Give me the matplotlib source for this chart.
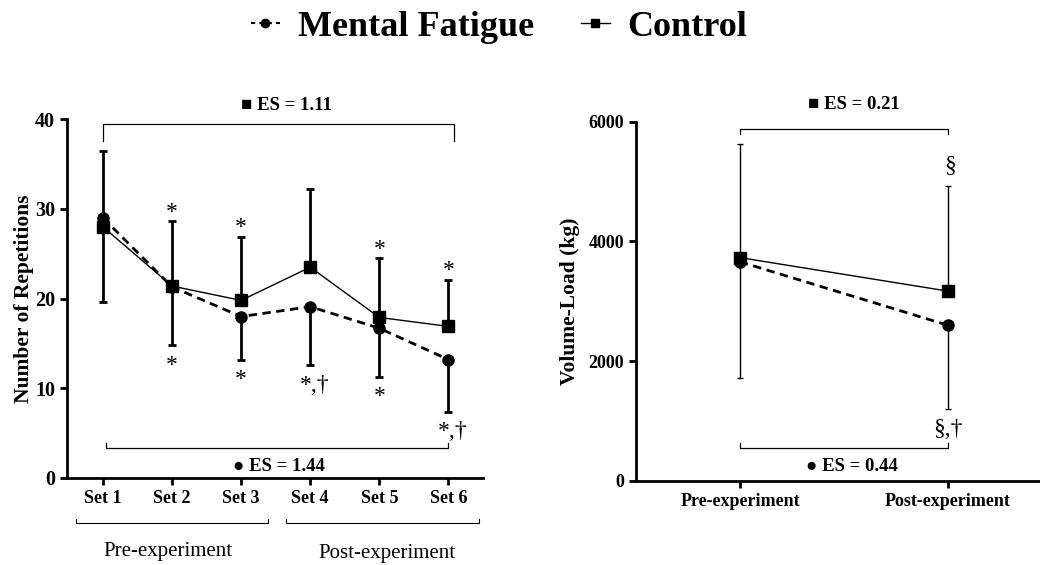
import matplotlib.pyplot as plt
from matplotlib.lines import Line2D

plt.rcParams['font.family'] = ['Liberation Serif', 'DejaVu Serif']

# left panel: repetitions per set
sets = ["Set 1", "Set 2", "Set 3", "Set 4", "Set 5", "Set 6"]
mf_reps = [29.0, 21.3, 18.0, 19.1, 16.7, 13.2]
mf_reps_sd = [9.4, 6.5, 4.8, 6.5, 5.4, 5.8]
ctrl_reps = [28.0, 21.4, 19.8, 23.5, 17.9, 16.9]
ctrl_reps_sd = [8.5, 7.2, 7.1, 8.7, 6.6, 5.2]
stars_top = ["", "*", "*", "", "*", "*"]
stars_bottom = ["", "*", "*", "*,\u2020", "*", "*,\u2020"]

# right panel: volume load
phases = ["Pre-experiment", "Post-experiment"]
mf_vol = [3660, 2600]
mf_vol_sd = [1935, 1405]
ctrl_vol = [3730, 3170]
ctrl_vol_sd = [1905, 1760]


def style_axis(ax):
    ax.spines["top"].set_visible(False)
    ax.spines["right"].set_visible(False)
    ax.spines["left"].set_linewidth(2)
    ax.spines["bottom"].set_linewidth(2)
    ax.tick_params(width=2, length=5, labelsize=13)
    for lab in ax.get_xticklabels() + ax.get_yticklabels():
        lab.set_fontweight("bold")


def bracket(ax, x0, x1, y, leg, **kw):
    ax.plot([x0, x0, x1, x1], [y + leg, y, y, y + leg], color="black", lw=0.9, **kw)


fig = plt.figure(figsize=(10.4, 5.65), dpi=100)

# ---- left
ax1 = fig.add_axes([0.0644, 0.154, 0.40, 0.635])
x = list(range(len(sets)))
ax1.errorbar(x, mf_reps, yerr=[mf_reps_sd, [0] * 6], fmt="none", ecolor="black",
             elinewidth=2, capsize=3, capthick=2)
ax1.errorbar(x, ctrl_reps, yerr=[[0] * 6, ctrl_reps_sd], fmt="none", ecolor="black",
             elinewidth=2, capsize=3, capthick=2)
ax1.plot(x, ctrl_reps, "-s", color="black", lw=1, ms=8)
ax1.plot(x, mf_reps, "--o", color="black", lw=2, ms=8, dashes=(3, 2))
ax1.set_xlim(-0.52, 5.5)
ax1.set_ylim(0, 40)
ax1.set_yticks([0, 10, 20, 30, 40])
ax1.set_xticks(x)
ax1.set_xticklabels(sets)
style_axis(ax1)
ax1.tick_params(axis="y", labelsize=14.5)
ax1.set_ylabel("Number of Repetitions", fontsize=15.5, fontweight="bold", labelpad=1)

# significance marks, baseline placed so the glyph sits just past the error cap
for i in x:
    if stars_top[i]:
        ax1.text(i, ctrl_reps[i] + ctrl_reps_sd[i] + 0.4, stars_top[i], ha="center",
                 va="baseline", fontsize=17)
    if stars_bottom[i]:
        ax1.text(i + (0.06 if "," in stars_bottom[i] else 0),
                 mf_reps[i] - mf_reps_sd[i] - 2.85, stars_bottom[i], ha="center",
                 va="baseline", fontsize=17)

bracket(ax1, 0, 5.08, 39.5, -1.9, clip_on=False)
bracket(ax1, 0.04, 5.0, 3.3, 0.6)
ax1.text(2.65, 41.5, "\u25a0 ES = 1.11", ha="center", va="center", fontsize=13.5,
         fontweight="bold")
ax1.text(2.55, 1.3, "\u25cf ES = 1.44", ha="center", va="center", fontsize=13.5,
         fontweight="bold")

trans = ax1.get_xaxis_transform()
ax1.plot([-0.39, -0.39, 2.39, 2.39], [-0.114, -0.126, -0.126, -0.114], color="black",
         lw=0.8, transform=trans, clip_on=False)
ax1.plot([2.65, 2.65, 5.44, 5.44], [-0.114, -0.126, -0.126, -0.114], color="black",
         lw=0.8, transform=trans, clip_on=False)
ax1.text(0.94, -0.205, "Pre-experiment", ha="center", va="center", fontsize=15,
         transform=trans)
ax1.text(4.11, -0.21, "Post-experiment", ha="center", va="center", fontsize=15,
         transform=trans)

# ---- right
ax2 = fig.add_axes([0.6115, 0.1487, 0.39, 0.636])
x2 = [0, 1]
ax2.errorbar(x2, mf_vol, yerr=[mf_vol_sd, [0, 0]], fmt="none", ecolor="black",
             elinewidth=1, capsize=2.5, capthick=1)
ax2.errorbar(x2, ctrl_vol, yerr=[[0, 0], ctrl_vol_sd], fmt="none", ecolor="black",
             elinewidth=1, capsize=2.5, capthick=1)
ax2.plot(x2, ctrl_vol, "-s", color="black", lw=1, ms=8)
ax2.plot(x2, mf_vol, "--o", color="black", lw=2, ms=8, dashes=(3, 2))
ax2.set_xlim(-0.5, 1.45)
ax2.set_ylim(0, 6000)
ax2.set_yticks([0, 2000, 4000, 6000])
ax2.set_xticks(x2)
ax2.set_xticklabels(phases)
ax2.set_ylabel("Volume-Load (kg)", fontsize=15.5, fontweight="bold", labelpad=6)
style_axis(ax2)

bracket(ax2, 0, 1, 5870, -80)
bracket(ax2, 0, 1, 556, 85)
ax2.text(0.55, 6290, "\u25a0 ES = 0.21", ha="center", va="center", fontsize=13.5,
         fontweight="bold")
ax2.text(0.54, 240, "\u25cf ES = 0.44", ha="center", va="center", fontsize=13.5,
         fontweight="bold")
ax2.text(1.01, 5275, "\u00a7", ha="center", va="center", fontsize=17)
ax2.text(1.0, 860, "\u00a7,\u2020", ha="center", va="center", fontsize=17)

# ---- legend
handles = [Line2D([], [], color="black", ls="--", lw=1.5, marker="o", ms=6, dashes=(2, 2)),
           Line2D([], [], color="black", ls="-", lw=1, marker="s", ms=6)]
fig.legend(handles, ["Mental Fatigue", "Control"], loc="center", bbox_to_anchor=(0.48, 0.952),
           ncol=2, frameon=False, handlelength=0.8, handletextpad=0.5, columnspacing=1.3,
           prop={"size": 26, "weight": "bold"})

fig.savefig("out.png", dpi=100)
